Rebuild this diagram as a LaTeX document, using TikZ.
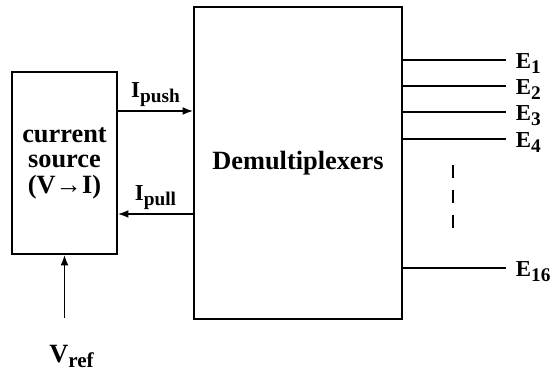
\documentclass[tikz,border=0pt]{standalone}
\usepackage{fontspec}
\setmainfont{Liberation Serif}
\usetikzlibrary{arrows.meta, positioning, calc}
\newcommand{\lowsub}[1]{\raisebox{-0.45ex}{\fontsize{11}{11}\selectfont #1}}

\begin{document}
\begin{tikzpicture}[
    node distance=0.3cm,
    blk/.style={rectangle, draw, line width=1pt, font=\fontsize{15}{14.5}\selectfont\bfseries,
                align=center, inner sep=0pt},
    lbl/.style={font=\fontsize{13}{15}\selectfont\bfseries, inner sep=2pt},
    arr/.style={-{Latex[length=6pt,width=4.5pt]}, line width=1pt},
    wire/.style={line width=1pt},
]
\useasboundingbox (0,0) rectangle (11.1,7.48);

\node[blk, minimum width=2.10cm, minimum height=3.64cm] (src) at (1.29,4.22) {current\\source\\(V→I)};
\node[blk, minimum width=4.16cm, minimum height=6.24cm] (dmx) at (5.96,4.22) {Demultiplexers};

% currents between source and demux
\coordinate (push) at (src.east |- 0,5.26);
\coordinate (pull) at (dmx.west |- 0,3.20);
\draw[arr] (push) -- node[lbl, above] (ipush) {I\lowsub{push}} (push -| dmx.west);
\draw[arr] (pull) -- node[lbl, above] (ipull) {I\lowsub{pull}} (pull -| src.east);

% reference voltage
\coordinate (vin) at (src.south |- 0,1.12);
\node[font=\fontsize{15}{17}\selectfont\bfseries, below=0.42cm of vin, xshift=0.14cm] (vref)
  {V\raisebox{-0.45ex}{\fontsize{12}{12}\selectfont ref}};
\draw[arr] (vin) -- (src.south);

% outputs
\foreach \i/\yy in {1/6.28, 2/5.76, 3/5.24, 4/4.70, 16/2.12} {
  \coordinate (o\i) at (dmx.east |- 0,\yy);
  \coordinate (e\i) at (10.12,\yy);
  \draw[wire] (o\i) -- (e\i);
  \node[lbl, right=0.12cm of e\i, yshift=-2pt] (E\i) {E\lowsub{\i}};
}

% the omitted outputs
\coordinate (d1) at (9.06,4.18);
\coordinate (d2) at (9.06,2.92);
\draw[wire, dash pattern=on 0.26cm off 0.24cm] (d1) -- (d2);

\end{tikzpicture}
\end{document}
